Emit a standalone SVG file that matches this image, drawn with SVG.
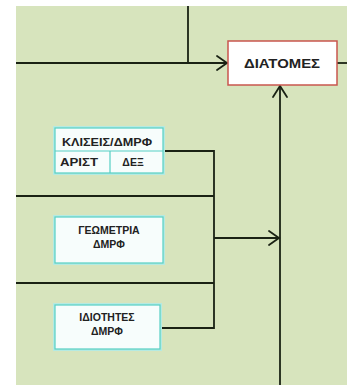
<svg xmlns="http://www.w3.org/2000/svg" width="347" height="385" viewBox="0 0 347 385">
<defs>
<style>
.ln{stroke:#1a2214;stroke-width:1.8;fill:none}
.ar{stroke:#1a2214;stroke-width:1.8;fill:none;stroke-linecap:round;stroke-linejoin:miter}
.glow{fill:none;stroke:#b4eae2;stroke-width:4}
.cb{fill:#f7fdfc;stroke:#56cfc3;stroke-width:1.2}
.rb{fill:#ffffff;stroke:#c9564e;stroke-width:1.5}
.t{font-family:"Liberation Sans",Arial,sans-serif;font-weight:bold;fill:#222;text-anchor:middle}
.s{font-size:10.5px}
.b{font-size:12px}
</style>
</defs>
<rect x="0" y="0" width="347" height="385" fill="#ffffff"/>
<rect x="16" y="6" width="331" height="379" fill="#d7e4bd"/>
<g id="connectors">
<path class="ln" d="M188 6V63"/>
<path class="ln" d="M16 63H227"/>
<path class="ar" d="M217 56L227 63L217 70"/>
<path class="ln" d="M337 63H347"/>
<path class="ln" d="M280 86V385"/>
<path class="ar" d="M273 97L280 86L287 97"/>
<path class="ln" d="M163 151H214V328H160"/>
<path class="ln" d="M16 196H214"/>
<path class="ln" d="M16 283H214"/>
<path class="ln" d="M214 238H279"/>
<path class="ar" d="M269 231L279 238L269 245"/>
</g>
<g id="diatomes">
<rect class="rb" x="228" y="41" width="109" height="44"/>
<text class="t b" x="282" y="68" textLength="76" lengthAdjust="spacingAndGlyphs">ΔΙΑΤΟΜΕΣ</text>
</g>
<g id="kliseis">
<rect class="glow" x="55" y="128" width="108" height="45"/>
<rect class="cb" x="55" y="128" width="108" height="45"/>
<path d="M55 151H163M110 151V173" stroke="#56cfc3" stroke-width="1.2" fill="none"/>
<text class="t s" x="107" y="146" textLength="90" lengthAdjust="spacingAndGlyphs">ΚΛΙΣΕΙΣ/ΔΜΡΦ</text>
<text class="t s" x="79" y="166" textLength="38" lengthAdjust="spacingAndGlyphs">ΑΡΙΣΤ</text>
<text class="t s" x="133" y="166">ΔΕΞ</text>
</g>
<g id="geometria">
<rect class="glow" x="55" y="217" width="108" height="46"/>
<rect class="cb" x="55" y="217" width="108" height="46"/>
<text class="t s" x="109" y="234">ΓΕΩΜΕΤΡΙΑ</text>
<text class="t s" x="109" y="248">ΔΜΡΦ</text>
</g>
<g id="idiotites">
<rect class="glow" x="55" y="305" width="105" height="44"/>
<rect class="cb" x="55" y="305" width="105" height="44"/>
<text class="t s" x="107" y="321">ΙΔΙΟΤΗΤΕΣ</text>
<text class="t s" x="107" y="335">ΔΜΡΦ</text>
</g>
</svg>
